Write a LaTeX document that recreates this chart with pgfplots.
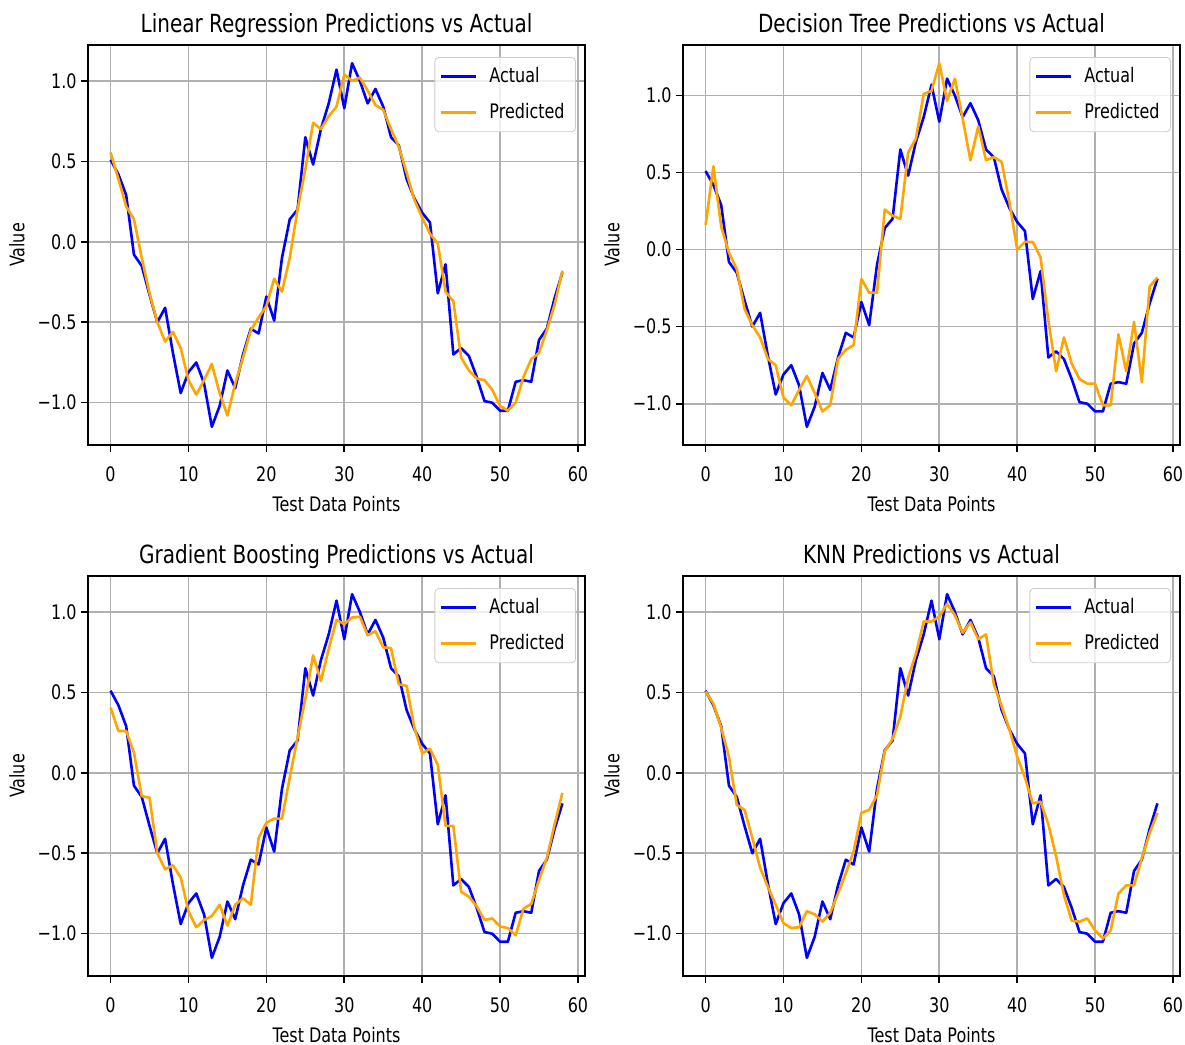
\documentclass[border=0pt]{standalone}
\usepackage{fontspec}
\setmainfont{DejaVu Sans}[FakeStretch=0.8]
\usepackage{pgfplots}
\usepackage{pgfplotstable}
\pgfplotsset{compat=1.18}

\definecolor{mplblue}{RGB}{0,0,255}
\definecolor{mplorange}{RGB}{255,165,0}
\definecolor{mplgrid}{RGB}{176,176,176}
\definecolor{mpllegend}{RGB}{204,204,204}

% test points: actual values and the four models' predictions
\pgfplotstableread{
x  actual  lr     dt     gb     knn
0  0.51    0.555  0.16   0.405  0.505
1  0.42    0.39   0.54   0.26   0.43
2  0.29    0.22   0.15   0.26   0.28
3  -0.08   0.14   -0.02  0.125  0.10
4  -0.15   -0.10  -0.125 -0.145 -0.20
5  -0.33   -0.32  -0.385 -0.155 -0.23
6  -0.50   -0.50  -0.49  -0.50  -0.405
7  -0.41   -0.62  -0.57  -0.60  -0.59
8  -0.69   -0.56  -0.71  -0.575 -0.71
9  -0.94   -0.66  -0.75  -0.65  -0.82
10 -0.81   -0.86  -0.96  -0.86  -0.935
11 -0.75   -0.95  -1.01  -0.96  -0.965
12 -0.88   -0.86  -0.91  -0.915 -0.96
13 -1.15   -0.76  -0.82  -0.89  -0.86
14 -1.02   -0.94  -0.93  -0.82  -0.88
15 -0.80   -1.08  -1.05  -0.95  -0.925
16 -0.91   -0.88  -1.01  -0.82  -0.87
17 -0.70   -0.72  -0.71  -0.78  -0.75
18 -0.54   -0.55  -0.65  -0.82  -0.625
19 -0.57   -0.47  -0.62  -0.405 -0.49
20 -0.34   -0.40  -0.19  -0.31  -0.25
21 -0.49   -0.23  -0.28  -0.285 -0.23
22 -0.10   -0.31  -0.28  -0.285 -0.14
23 0.14    -0.10  0.26   -0.03  0.135
24 0.20    0.20   0.22   0.22   0.21
25 0.65    0.45   0.20   0.46   0.35
26 0.48    0.74   0.63   0.73   0.59
27 0.70    0.70   0.72   0.57   0.74
28 0.86    0.78   1.01   0.77   0.94
29 1.07    0.84   1.03   0.95   0.94
30 0.83    1.04   1.21   0.925  0.97
31 1.11    1.00   0.965  0.965  1.05
32 1.00    1.02   1.11   0.97   0.98
33 0.86    0.94   0.85   0.855  0.87
34 0.95    0.85   0.58   0.88   0.935
35 0.84    0.82   0.80   0.78   0.83
36 0.65    0.70   0.58   0.775  0.86
37 0.60    0.59   0.60   0.55   0.55
38 0.39    0.43   0.57   0.54   0.415
39 0.27    0.26   0.31   0.28   0.27
40 0.18    0.15   0.00   0.12   0.10
41 0.12    0.05   0.05   0.15   -0.03
42 -0.32   -0.01  0.05   0.05   -0.19
43 -0.14   -0.31  -0.05  -0.33  -0.18
44 -0.70   -0.37  -0.46  -0.33  -0.32
45 -0.66   -0.72  -0.79  -0.74  -0.52
46 -0.71   -0.80  -0.57  -0.77  -0.76
47 -0.84   -0.85  -0.74  -0.83  -0.92
48 -0.99   -0.86  -0.84  -0.915 -0.925
49 -1.00   -0.92  -0.87  -0.905 -0.905
50 -1.05   -1.02  -0.87  -0.955 -0.98
51 -1.05   -1.05  -1.01  -0.965 -1.03
52 -0.87   -1.00  -1.01  -1.01  -0.98
53 -0.86   -0.84  -0.55  -0.845 -0.75
54 -0.87   -0.73  -0.79  -0.815 -0.70
55 -0.61   -0.69  -0.47  -0.665 -0.70
56 -0.54   -0.55  -0.86  -0.53  -0.53
57 -0.35   -0.39  -0.24  -0.32  -0.375
58 -0.19   -0.18  -0.18  -0.125 -0.25
}\preds

\pgfplotsset{
  panel/.style={
    scale only axis, width=248.5pt, height=200pt, anchor=north west,
    xmin=-2.9, xmax=60.9,
    ymin=-1.263, ymax=1.223,
    xtick={0,10,20,30,40,50,60},
    xticklabels={0,10,20,30,40,50,60},
    ytick={-1,-0.5,0,0.5,1},
    yticklabels={−1.0,−0.5,0.0,0.5,1.0},
    grid=major,
    major grid style={color=mplgrid, line width=0.8pt},
    axis line style={line width=0.8pt},
    tick align=outside, tick pos=left, major tick length=3.5pt,
    tick style={black, line width=0.8pt},
    tick label style={font=\fontsize{10}{12}\selectfont},
    xticklabel style={anchor=base, inner sep=0pt, yshift=-14.5pt},
    yticklabel style={anchor=east, inner sep=0pt, xshift=-2pt},
    label style={font=\fontsize{10}{12}\selectfont},
    xlabel={Test Data Points},
    xlabel style={at={(axis description cs:0.5,0)}, anchor=base, inner sep=0pt, yshift=-33pt},
    ylabel={Value}, ylabel shift=3pt,
    title style={at={(axis description cs:0.5,1)}, anchor=base, inner sep=0pt, yshift=0.5pt,
      font=\fontsize{12.5}{15}\selectfont},
    legend style={at={(axis description cs:1,1)}, anchor=north east, xshift=-4.5pt, yshift=-6pt,
      draw=mpllegend, rounded corners=2pt, fill=white, fill opacity=0.8, text opacity=1,
      font=\fontsize{10}{12}\selectfont, inner xsep=2.5pt, inner ysep=2pt, row sep=3pt,
      cells={anchor=west}, nodes={inner sep=3pt}},
    legend image code/.code={\draw[#1] (0pt,0pt) -- (17.5pt,0pt); \path (20.5pt,0pt);},
    every axis plot/.append style={line width=1.3pt, line join=round},
  }
}

\begin{document}
\begin{tikzpicture}
\path[use as bounding box] (0,0) rectangle (592.5pt,-522.5pt);

\begin{axis}[panel, at={(44pt,-22.5pt)}, title={Linear Regression Predictions vs Actual}]
\addplot[mplblue] table[x=x, y=actual] {\preds};
\addplot[mplorange] table[x=x, y=lr] {\preds};
\legend{Actual,Predicted}
\end{axis}

\begin{axis}[panel, at={(341.5pt,-22.5pt)}, ymin=-1.268, ymax=1.328,
  title={Decision Tree Predictions vs Actual}]
\addplot[mplblue] table[x=x, y=actual] {\preds};
\addplot[mplorange] table[x=x, y=dt] {\preds};
\legend{Actual,Predicted}
\end{axis}

\begin{axis}[panel, at={(44pt,-288pt)}, title={Gradient Boosting Predictions vs Actual}]
\addplot[mplblue] table[x=x, y=actual] {\preds};
\addplot[mplorange] table[x=x, y=gb] {\preds};
\legend{Actual,Predicted}
\end{axis}

\begin{axis}[panel, at={(341.5pt,-288pt)}, title={KNN Predictions vs Actual}]
\addplot[mplblue] table[x=x, y=actual] {\preds};
\addplot[mplorange] table[x=x, y=knn] {\preds};
\legend{Actual,Predicted}
\end{axis}
\end{tikzpicture}
\end{document}
